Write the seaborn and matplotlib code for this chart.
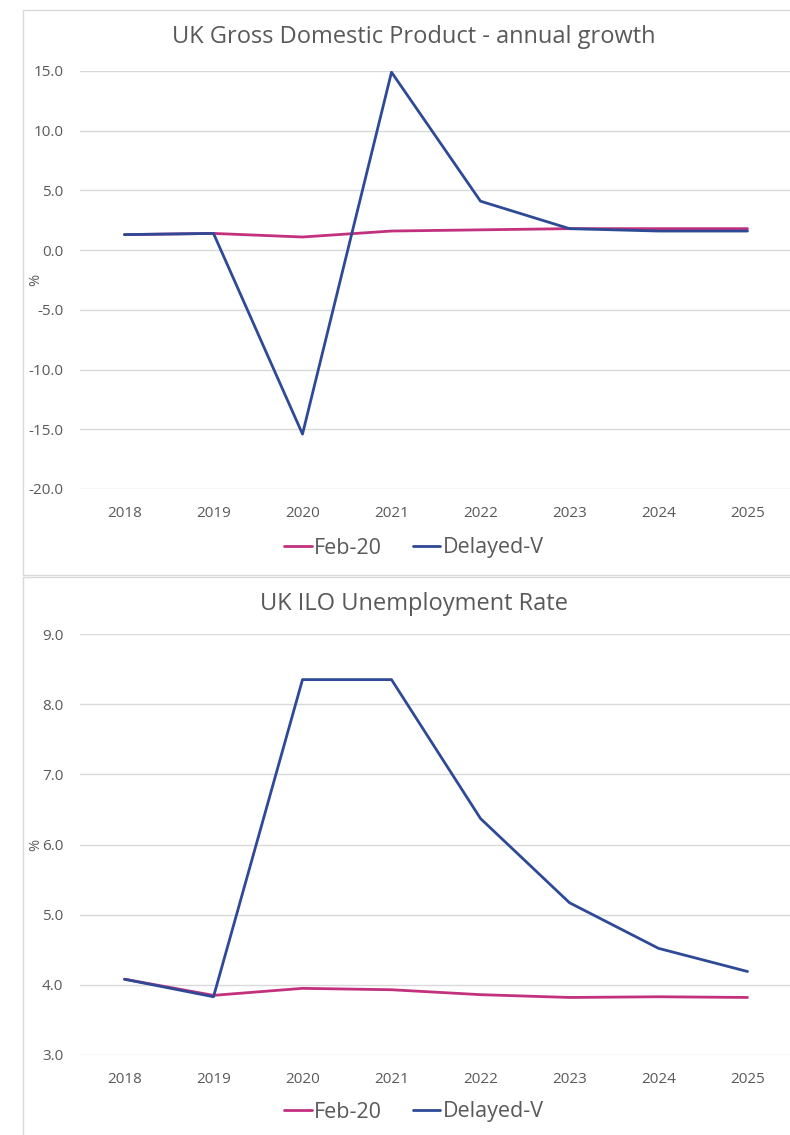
import matplotlib

matplotlib.use("Agg")
import matplotlib.pyplot as plt
import pandas as pd
import seaborn as sns
from matplotlib.patches import Rectangle

years = [2018, 2019, 2020, 2021, 2022, 2023, 2024, 2025]
series_names = ["Feb-20", "Delayed-V"]

gdp_feb20 = [1.3, 1.4, 1.1, 1.6, 1.7, 1.8, 1.8, 1.8]
gdp_delayed_v = [1.3, 1.4, -15.4, 14.9, 4.1, 1.8, 1.6, 1.6]

unemp_feb20 = [4.08, 3.85, 3.95, 3.93, 3.86, 3.82, 3.83, 3.82]
unemp_delayed_v = [4.08, 3.83, 8.35, 8.35, 6.37, 5.17, 4.52, 4.19]

gdp_ticks = [15.0, 10.0, 5.0, 0.0, -5.0, -10.0, -15.0, -20.0]
unemp_ticks = [9.0, 8.0, 7.0, 6.0, 5.0, 4.0, 3.0]

COLORS = {"Feb-20": "#C2307E", "Delayed-V": "#2E4A96"}
TEXT = "#595959"
GRID = "#D9D9D9"

sns.set_theme(style="white")
plt.rcParams["font.family"] = ["Open Sans", "DejaVu Sans"]

W, H = 790, 1135


def fy(p):
    return 1 - p / H


def long_frame(a, b):
    return pd.DataFrame({
        "year": years * 2,
        "value": a + b,
        "series": [series_names[0]] * len(years) + [series_names[1]] * len(years),
    })


def draw_panel(fig, ax, df, ticks, title, title_y, legend_y):
    sns.lineplot(data=df, x="year", y="value", hue="series", hue_order=series_names,
                 palette=COLORS, linewidth=2.0, ax=ax, legend=False)
    ax.set_xlim(2017.5, 2025.5)
    ax.set_ylim(min(ticks), max(ticks))
    ax.set_yticks(ticks)
    ax.set_yticklabels([f"{t:.1f}" for t in ticks])
    ax.set_xticks(years)
    ax.set_xticklabels([str(y) for y in years])
    ax.grid(axis="y", color=GRID, linewidth=1.0)
    ax.set_axisbelow(True)
    for s in ax.spines.values():
        s.set_visible(False)
    ax.tick_params(axis="both", length=0, labelsize=11, colors=TEXT)
    ax.tick_params(axis="y", pad=12)
    ax.tick_params(axis="x", pad=12)
    ax.set_xlabel("")
    ax.set_ylabel("%", color=TEXT, fontsize=10.5)
    ax.yaxis.set_label_coords(-0.052, 0.5)
    fig.text(414 / W, fy(title_y), title, ha="center", va="center", fontsize=17, color=TEXT)
    handles = [plt.Line2D([], [], color=COLORS[n], linewidth=2.0) for n in series_names]
    fig.legend(handles, series_names, loc="center", bbox_to_anchor=(414 / W, fy(legend_y)),
               ncol=2, frameon=False, fontsize=15.5, labelcolor=TEXT, handlelength=1.3,
               handletextpad=0.1, columnspacing=1.4)


fig = plt.figure(figsize=(W / 100, H / 100), dpi=100)

# chart frames
fig.patches.append(Rectangle((23 / W, fy(575)), 1.0, (575 - 10) / H, transform=fig.transFigure,
                             fill=False, edgecolor=GRID, linewidth=1.0))
fig.patches.append(Rectangle((23 / W, fy(1140)), 1.0, (1140 - 577) / H, transform=fig.transFigure,
                             fill=False, edgecolor=GRID, linewidth=1.0))

ax1 = fig.add_axes([80 / W, fy(489), 712 / W, (489 - 71) / H])
draw_panel(fig, ax1, long_frame(gdp_feb20, gdp_delayed_v), gdp_ticks,
           "UK Gross Domestic Product - annual growth", 37, 548)

ax2 = fig.add_axes([80 / W, fy(1055), 712 / W, (1055 - 634) / H])
draw_panel(fig, ax2, long_frame(unemp_feb20, unemp_delayed_v), unemp_ticks,
           "UK ILO Unemployment Rate", 604, 1112)

fig.savefig("out.png", dpi=100)
